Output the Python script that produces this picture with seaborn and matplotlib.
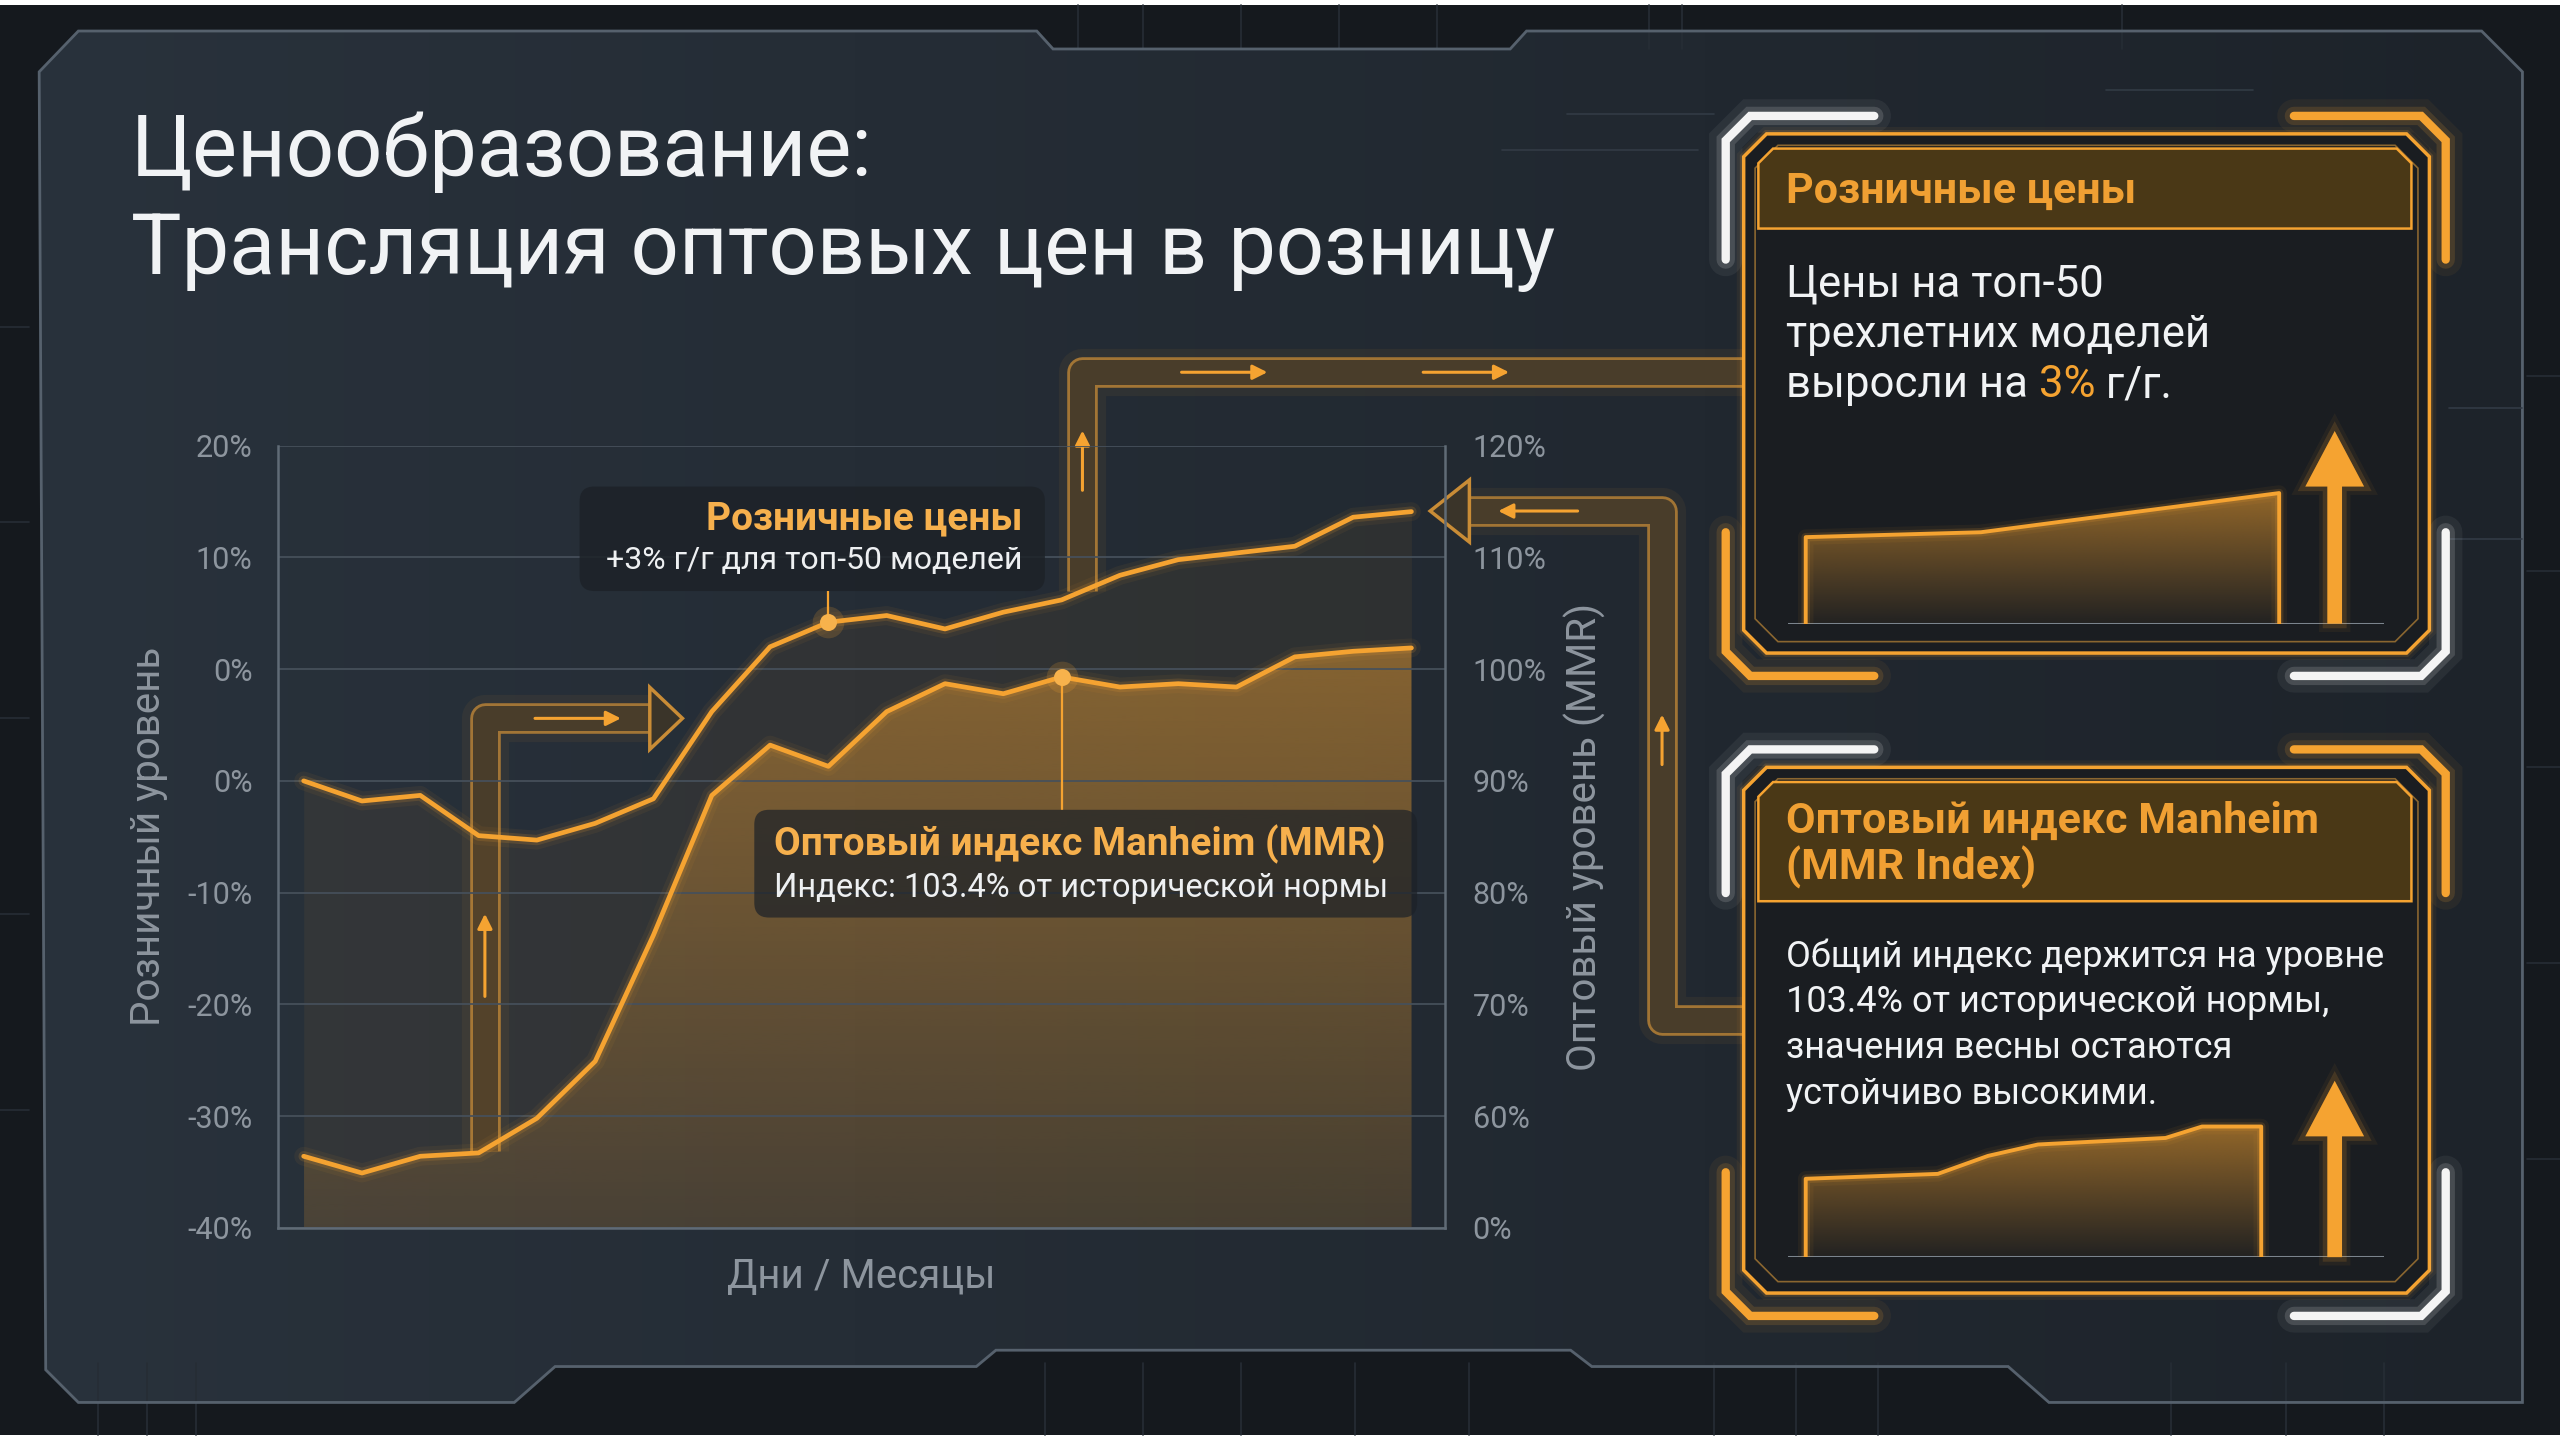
import numpy as np
import pandas as pd
import matplotlib.pyplot as plt
import seaborn as sns
import matplotlib.patheffects as pe
from matplotlib.patches import Polygon, FancyBboxPatch, FancyArrow, Rectangle
from matplotlib.colors import to_rgb

sns.set_theme(style="dark")
plt.rcParams["font.family"] = ["Roboto", "DejaVu Sans"]

# ---- values ----------------------------------------------------------------
periods = list(range(20))
retail_level = [90, 88.2, 88.7, 85.1, 84.7, 86.2, 88.4, 96.2, 102, 104.2,
                104.8, 103.6, 105.1, 106.2, 108.4, 109.8, 110.4, 111, 113.6, 114.1]
mmr_level = [56.4, 54.9, 56.4, 56.7, 59.8, 64.9, 76.2, 88.7, 93.2, 91.3,
             96.2, 98.7, 97.8, 99.3, 98.4, 98.7, 98.4, 101.1, 101.6, 101.9]
grid_levels = [120, 110, 100, 90, 80, 70, 60, 50]
left_tick_labels = ["20%", "10%", "0%", "0%", "-10%", "-20%", "-30%", "-40%"]
right_tick_labels = ["120%", "110%", "100%", "90%", "80%", "70%", "60%", "0%"]
retail_marker = 9
mmr_marker = 13

retail_mini_x = [0, 3.7, 10]
retail_mini_y = [53, 56, 80]
mmr_mini_x = [0, 2.9, 4.0, 5.1, 7.9, 8.7, 10]
mmr_mini_y = [48, 51, 62, 69, 73, 80, 80]

ORANGE = "#f5a331"
GREY = "#8d959e"
W, H = 1568, 882  # layout grid for placing panels


def box(x0, y0, x1, y1):
    return [x0 / W, 1 - y1 / H, (x1 - x0) / W, (y1 - y0) / H]


def glow(lw, color=ORANGE):
    return [pe.Stroke(linewidth=lw * 4, foreground=color, alpha=0.06),
            pe.Stroke(linewidth=lw * 2.2, foreground=color, alpha=0.15),
            pe.Normal()]


def gradient_fill(ax, xs, ys, base, color, a_top, a_bot, zorder):
    verts = [(xs[0], base)] + list(zip(xs, ys)) + [(xs[-1], base)]
    clip = Polygon(verts, closed=True, facecolor="none", edgecolor="none")
    ax.add_patch(clip)
    rgba = np.zeros((256, 1, 4))
    rgba[..., :3] = to_rgb(color)
    rgba[:, 0, 3] = np.linspace(a_top, a_bot, 256)
    im = ax.imshow(rgba, extent=[min(xs), max(xs), base, max(ys)], origin="upper",
                   aspect="auto", zorder=zorder, interpolation="bilinear")
    im.set_clip_path(clip)


fig = plt.figure(figsize=(25.6, 14.4), dpi=100, facecolor="white")

# ---- background layer ------------------------------------------------------
bg = fig.add_axes([0, 0, 1, 1])
bg.set_xlim(0, W)
bg.set_ylim(H, 0)
bg.axis("off")
bg.add_patch(Rectangle((0, 3), W, 876, facecolor="#15191e", edgecolor="none"))

for x in [660, 700, 760, 820, 880, 1010, 1030, 1300]:
    bg.plot([x, x], [3, 30], color="#262d35", lw=1.2)
for x in [60, 90, 120, 640, 700, 760, 830, 900, 1050, 1100, 1150, 1330, 1400, 1460]:
    bg.plot([x, x], [835, 879], color="#262d35", lw=1.2)
for y in [200, 320, 440, 560, 680]:
    bg.plot([0, 18], [y, y], color="#262d35", lw=1.2)
    bg.plot([1548, 1568], [y + 30, y + 30], color="#262d35", lw=1.2)

panel_pts = [(24, 44), (48, 19), (635, 19), (645, 30), (925, 30), (935, 19),
             (1520, 19), (1545, 44), (1545, 859), (1255, 859), (1230, 837),
             (975, 837), (962, 827), (610, 827), (598, 837), (340, 837),
             (315, 859), (48, 859), (28, 839)]
panel = Polygon(panel_pts, closed=True, facecolor="none", edgecolor="#56616d", lw=2, zorder=2)
bg.add_patch(panel)
shade = np.linspace(0, 1, 300)
pimg = np.zeros((2, 300, 3))
c0, c1 = np.array(to_rgb("#29323c")), np.array(to_rgb("#1d232a"))
pimg[:] = c0 + (c1 - c0) * shade[:, None]
im = bg.imshow(pimg, extent=[0, W, H, 0], aspect="auto", zorder=1, interpolation="bilinear")
im.set_clip_path(panel)
bg.set_xlim(0, W)
bg.set_ylim(H, 0)

# faint traces inside panel
for (xa, ya, xb, yb) in [(960, 70, 1050, 70), (920, 92, 1040, 92), (1290, 55, 1380, 55),
                         (1500, 250, 1545, 250), (1500, 330, 1545, 330)]:
    bg.plot([xa, xb], [ya, yb], color="#323b45", lw=1.2, zorder=2)

# ---- pipes / connectors -----------------------------------------------------
def pipe(xs, ys):
    bg.plot(xs, ys, color="#3a3429", lw=18, alpha=0.85, solid_joinstyle="round",
            solid_capstyle="butt", zorder=3,
            path_effects=[pe.Stroke(linewidth=34, foreground=ORANGE, alpha=0.06),
                          pe.Stroke(linewidth=22, foreground="#c98c36", alpha=0.75),
                          pe.Normal()])


def small_arrow(x0, y0, x1, y1):
    bg.annotate("", xy=(x1, y1), xytext=(x0, y0), zorder=4,
                arrowprops=dict(arrowstyle="-|>", color=ORANGE, lw=2.2, mutation_scale=22))


def head(pts):
    bg.add_patch(Polygon(pts, closed=True, facecolor="#3a3429", edgecolor="#c98c36",
                         lw=2.5, zorder=4))


pipe([663, 663, 1068], [362, 228, 228])
small_arrow(722, 228, 778, 228)
small_arrow(870, 228, 926, 228)
small_arrow(663, 302, 663, 262)

pipe([1068, 1018, 1018, 898], [625, 625, 313, 313])
head([(900, 294), (876, 313), (900, 332)])
small_arrow(968, 313, 916, 313)
small_arrow(1018, 470, 1018, 436)

pipe([297, 297, 400], [705, 440, 440])
head([(398, 421), (418, 440), (398, 459)])
small_arrow(297, 612, 297, 558)
small_arrow(326, 440, 382, 440)

# ---- right-hand cards -------------------------------------------------------
def card(y0, y1, hy1):
    x0, x1, c = 1068, 1488, 14
    outer = [(x0 + c, y0), (x1 - c, y0), (x1, y0 + c), (x1, y1 - c), (x1 - c, y1),
             (x0 + c, y1), (x0, y1 - c), (x0, y0 + c)]
    bg.add_patch(Polygon(outer, closed=True, facecolor="#1a1d21", edgecolor=ORANGE,
                         lw=2.5, zorder=3, path_effects=glow(2.5)))
    d = 7
    inner = [(x0 + c + d, y0 + d), (x1 - c - d, y0 + d), (x1 - d, y0 + c + d),
             (x1 - d, y1 - c - d), (x1 - c - d, y1 - d), (x0 + c + d, y1 - d),
             (x0 + d, y1 - c - d), (x0 + d, y0 + c + d)]
    bg.add_patch(Polygon(inner, closed=True, facecolor="none", edgecolor="#8a6630",
                         lw=1.2, zorder=3))
    hx0, hx1, hy0 = 1077, 1477, y0 + 9
    hdr = [(hx0 + 9, hy0), (hx1 - 9, hy0), (hx1, hy0 + 9), (hx1, hy1), (hx0, hy1), (hx0, hy0 + 9)]
    bg.add_patch(Polygon(hdr, closed=True, facecolor="#4a3816", edgecolor=ORANGE,
                         lw=1.8, zorder=3))
    bt, bb = y0 - 11, y1 + 14
    brackets = [([1148, 1072, 1057, 1057], [bt, bt, bt + 15, bt + 88], "#f4f4f4"),
                ([1405, 1483, 1498, 1498], [bt, bt, bt + 15, bt + 88], ORANGE),
                ([1148, 1072, 1057, 1057], [bb, bb, bb - 15, bb - 88], ORANGE),
                ([1405, 1483, 1498, 1498], [bb, bb, bb - 15, bb - 88], "#f4f4f4")]
    for xs, ys, col in brackets:
        bg.plot(xs, ys, color=col, lw=6, solid_joinstyle="miter", zorder=4,
                path_effects=glow(6, col))


card(82, 400, 140)
card(470, 792, 552)


def mini_chart(x_px, bottom_px, top_px, unit, mx, my):
    m = fig.add_axes(box(1095, top_px, 1460, bottom_px))
    m.set_facecolor("none")
    for s in m.spines.values():
        s.set_visible(False)
    xs = [mx[0]] + list(mx) + [mx[-1]]
    ys = [0] + list(my) + [0]
    gradient_fill(m, mx, my, 0, ORANGE, 0.55, 0.04, 1)
    outline = pd.DataFrame({"x": xs, "y": ys})
    sns.lineplot(data=outline, x="x", y="y", sort=False, estimator=None, ax=m,
                 color=ORANGE, lw=2.8, legend=False, zorder=3,
                 path_effects=glow(2.8))
    m.axhline(0, color="#7b848d", lw=2.2, zorder=2)
    m.set_xlim((1095 - x_px) / unit, (1460 - x_px) / unit)
    m.set_ylim(0, bottom_px - top_px)
    m.set_xticks([])
    m.set_yticks([])
    m.set_xlabel("")
    m.set_ylabel("")


mini_chart(1106, 382, 250, 29.0, retail_mini_x, retail_mini_y)
mini_chart(1106, 770, 640, 27.9, mmr_mini_x, mmr_mini_y)

# ---- main chart ------------------------------------------------------------
ax = fig.add_axes(box(170, 273, 885, 752))
ax.set_facecolor("none")
ax2 = ax.twinx()

df = pd.DataFrame({"period": periods, "retail": retail_level, "mmr": mmr_level})

ax.fill_between(df["period"], df["retail"], 50, color=ORANGE, alpha=0.06, lw=0, zorder=1)
gradient_fill(ax, periods, mmr_level, 50, ORANGE, 0.44, 0.12, 1.1)

for col in ["retail", "mmr"]:
    sns.lineplot(data=df, x="period", y=col, ax=ax, color=ORANGE, lw=3.4,
                 legend=False, zorder=5, path_effects=glow(3.4))

ax.vlines(retail_marker, retail_level[retail_marker], 107.0, color=ORANGE, lw=1.6, zorder=4)
ax.vlines(mmr_marker, 87.4, mmr_level[mmr_marker], color=ORANGE, lw=1.6, zorder=4)
for i, series in [(retail_marker, retail_level), (mmr_marker, mmr_level)]:
    ax.scatter([i], [series[i]], s=520, color=ORANGE, alpha=0.18, lw=0, zorder=6)
    ax.scatter([i], [series[i]], s=150, color="#f7b24c", lw=0, zorder=7)

for a in (ax, ax2):
    a.set_xlim(-0.448, 19.574)
    a.set_ylim(50, 120)
    a.set_yticks(grid_levels)
    a.set_xticks([])
    for s in a.spines.values():
        s.set_visible(False)
ax.set_yticklabels(left_tick_labels)
ax2.set_yticklabels(right_tick_labels)
ax.set_axisbelow("line")
ax.grid(axis="y", color="#46505b", lw=1.4, alpha=0.9)
ax.grid(axis="x", visible=False)
ax2.grid(False)
ax.spines["left"].set_visible(True)
ax.spines["bottom"].set_visible(True)
ax2.spines["right"].set_visible(True)
for s in [ax.spines["left"], ax.spines["bottom"], ax2.spines["right"]]:
    s.set_color("#606b76")
    s.set_linewidth(1.8)

ax.tick_params(axis="y", length=0, pad=18, labelsize=22, labelcolor=GREY)
ax2.tick_params(axis="y", length=0, pad=20, labelsize=22, labelcolor=GREY)
ax.set_xlabel("Дни / Месяцы", fontsize=29, color=GREY)
ax.set_ylabel("Розничный уровень", fontsize=29, color=GREY)
ax2.set_ylabel("Оптовый уровень (MMR)", fontsize=29, color=GREY)
ax.xaxis.set_label_coords(0.5, -0.038)
ax.yaxis.set_label_coords(-0.094, 0.5)
ax2.yaxis.set_label_coords(1.102, 0.5)

# ---- overlay: titles, callouts, card text -----------------------------------
ov = fig.add_axes([0, 0, 1, 1], zorder=10)
ov.set_xlim(0, W)
ov.set_ylim(H, 0)
ov.axis("off")

ov.text(80, 108, "Ценообразование:", fontsize=61, color="#f1f3f5", va="baseline")
ov.text(80, 168, "Трансляция оптовых цен в розницу", fontsize=61, color="#f1f3f5",
        va="baseline")

ov.add_patch(FancyBboxPatch((355, 298), 285, 64, boxstyle="round,pad=0,rounding_size=9",
                            facecolor="#1d2228", edgecolor="none", alpha=0.85))
ov.text(626, 318, "Розничные цены", fontsize=28, fontweight="bold", color="#f6b04d",
        ha="right", va="center")
ov.text(626, 343, "+3% г/г для топ-50 моделей", fontsize=23, color="#eef0f2",
        ha="right", va="center")

ov.add_patch(FancyBboxPatch((462, 496), 406, 66, boxstyle="round,pad=0,rounding_size=9",
                            facecolor="#1d2228", edgecolor="none", alpha=0.72))
ov.text(474, 517, "Оптовый индекс Manheim (MMR)", fontsize=28, fontweight="bold",
        color="#f6b04d", ha="left", va="center")
ov.text(474, 544, "Индекс: 103.4% от исторической нормы", fontsize=23.5, color="#eef0f2",
        ha="left", va="center")

ov.text(1094, 117, "Розничные цены", fontsize=31, fontweight="bold", color="#f0a033",
        va="center")
ov.text(1094, 174, "Цены на топ-50", fontsize=31.5, color="#f1f3f5", va="center")
ov.text(1094, 205, "трехлетних моделей", fontsize=31.5, color="#f1f3f5", va="center")

renderer = fig.canvas.get_renderer()
px_to_grid = W / (fig.get_figwidth() * fig.dpi)
x = 1094
for part, col in [("выросли на ", "#f1f3f5"), ("3%", ORANGE), (" г/г.", "#f1f3f5")]:
    t = ov.text(x, 236, part, fontsize=31.5, color=col, va="center")
    x += t.get_window_extent(renderer).width * px_to_grid

ov.text(1094, 503, "Оптовый индекс Manheim", fontsize=31, fontweight="bold",
        color="#f0a033", va="center")
ov.text(1094, 531, "(MMR Index)", fontsize=31, fontweight="bold", color="#f0a033",
        va="center")
for k, line in enumerate(["Общий индекс держится на уровне",
                          "103.4% от исторической нормы,",
                          "значения весны остаются",
                          "устойчиво высокими."]):
    ov.text(1094, 586 + 28 * k, line, fontsize=26, color="#f1f3f5", va="center")

for yb, yt in [(382, 264), (770, 662)]:
    ov.add_patch(FancyArrow(1430, yb, 0, yt - yb, width=9, head_width=36, head_length=34,
                            length_includes_head=True, color=ORANGE, lw=0,
                            path_effects=glow(3)))

fig.savefig("out.png", dpi=100, facecolor=fig.get_facecolor())
